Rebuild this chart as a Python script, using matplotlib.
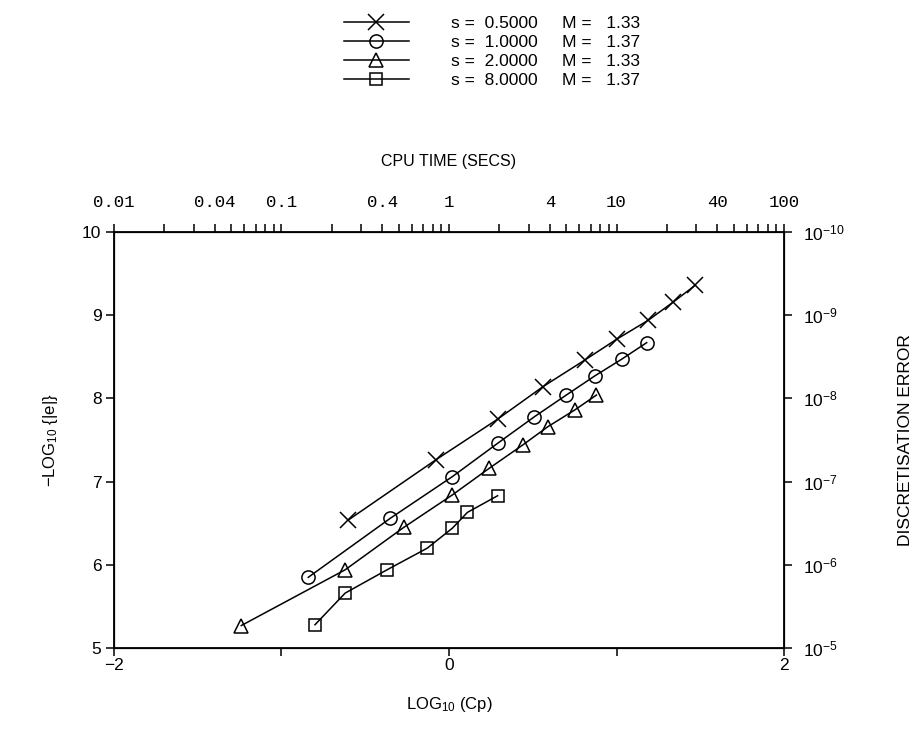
import numpy as np
import matplotlib
matplotlib.use("Agg")
import matplotlib.pyplot as plt
from matplotlib.ticker import FixedLocator, NullFormatter

plt.rcParams["font.family"] = ["Liberation Sans", "DejaVu Sans"]
plt.rcParams["mathtext.fontset"] = "custom"
plt.rcParams["mathtext.rm"] = "Liberation Sans"
plt.rcParams["mathtext.it"] = "Liberation Sans:italic"

# series: LOG10(Cp) vs -LOG10(|e|)
cross_x = [-0.60, -0.08, 0.29, 0.56, 0.81, 1.00, 1.19, 1.34, 1.47]
cross_y = [6.54, 7.26, 7.75, 8.14, 8.46, 8.71, 8.94, 9.16, 9.36]
circle_x = [-0.84, -0.35, 0.02, 0.29, 0.51, 0.70, 0.87, 1.03, 1.18]
circle_y = [5.85, 6.56, 7.06, 7.46, 7.78, 8.04, 8.27, 8.47, 8.67]
tri_x = [-1.24, -0.62, -0.27, 0.02, 0.24, 0.44, 0.59, 0.75, 0.88]
tri_y = [5.27, 5.94, 6.45, 6.84, 7.16, 7.44, 7.66, 7.86, 8.04]
sq_x = [-0.80, -0.62, -0.37, -0.13, 0.02, 0.11, 0.29]
sq_y = [5.28, 5.66, 5.94, 6.20, 6.44, 6.63, 6.83]

s_values = ["0.5000", "1.0000", "2.0000", "8.0000"]
m_values = ["1.33", "1.37", "1.33", "1.37"]

cpu_labels = ["0.01", "0.04", "0.1", "0.4", "1", "4", "10", "40", "100"]
cpu_label_vals = [0.01, 0.04, 0.1, 0.4, 1, 4, 10, 40, 100]
left_ticks = [5, 6, 7, 8, 9, 10]
bottom_ticks = [-2, -1, 0, 1, 2]
bottom_labels = ["\u22122", "", "0", "", "2"]

fig = plt.figure(figsize=(9.14, 7.30), dpi=100)
ax = fig.add_axes([0.1247, 0.1123, 0.7331, 0.5699])

series = [(cross_x, cross_y, "x", 12), (circle_x, circle_y, "o", 9.5),
          (tri_x, tri_y, "^", 10), (sq_x, sq_y, "s", 9)]
handles = []
for (xs, ys, mk, ms) in series:
    h, = ax.plot(xs, ys, color="black", lw=1.1, marker=mk, ms=ms,
                 mfc="none", mec="black", mew=1.1)
    handles.append(h)

ax.set_xlim(-2, 2)
ax.set_ylim(5, 10)
for sp in ax.spines.values():
    sp.set_linewidth(1.3)

ax.set_xticks(bottom_ticks)
ax.set_xticklabels(bottom_labels)
ax.set_yticks(left_ticks)
ax.tick_params(axis="both", direction="out", length=6, width=1.1,
               labelsize=12.5, colors="black", pad=3)
ax.tick_params(axis="x", pad=1)

# top axis: CPU time
axt = ax.twiny()
axt.set_xscale("log")
axt.set_xlim(0.01, 100)
minor = [n * 10.0 ** k for k in range(-2, 2) for n in range(1, 10)] + [100]
minor = [v for v in minor if v not in cpu_label_vals]
axt.xaxis.set_major_locator(FixedLocator(cpu_label_vals))
axt.xaxis.set_minor_locator(FixedLocator(minor))
axt.set_xticklabels(cpu_labels, family="Liberation Mono", fontsize=12.5)
axt.xaxis.set_minor_formatter(NullFormatter())
axt.tick_params(axis="x", which="both", direction="out", length=6, width=1.1, pad=10)
axt.set_xlabel("CPU TIME (SECS)", fontsize=11.5, labelpad=21)

# right axis: discretisation error
axr = ax.twinx()
axr.set_ylim(5, 10)
axr.set_yticks(left_ticks)
axr.set_yticklabels([r"$10^{-%d}$" % v for v in left_ticks])
axr.tick_params(axis="y", direction="out", length=6, width=1.1,
                labelsize=12.5, pad=8)
axr.set_ylabel("DISCRETISATION ERROR", fontsize=12.5, labelpad=38)

ax.set_xlabel(r"LOG$_{10}$ (Cp)", fontsize=12, labelpad=16)
ax.set_ylabel(r"$-$LOG$_{10}$ {|e|}", fontsize=12, labelpad=16)

labels = [f"s =  {s}     M =   {m}" for s, m in zip(s_values, m_values)]
fig.legend(handles, labels, loc="upper center", bbox_to_anchor=(0.538, 1.0),
           frameon=False, fontsize=12.5, handlelength=3.75, handletextpad=2.4,
           labelspacing=0.22)

fig.savefig("out.png", dpi=100)
